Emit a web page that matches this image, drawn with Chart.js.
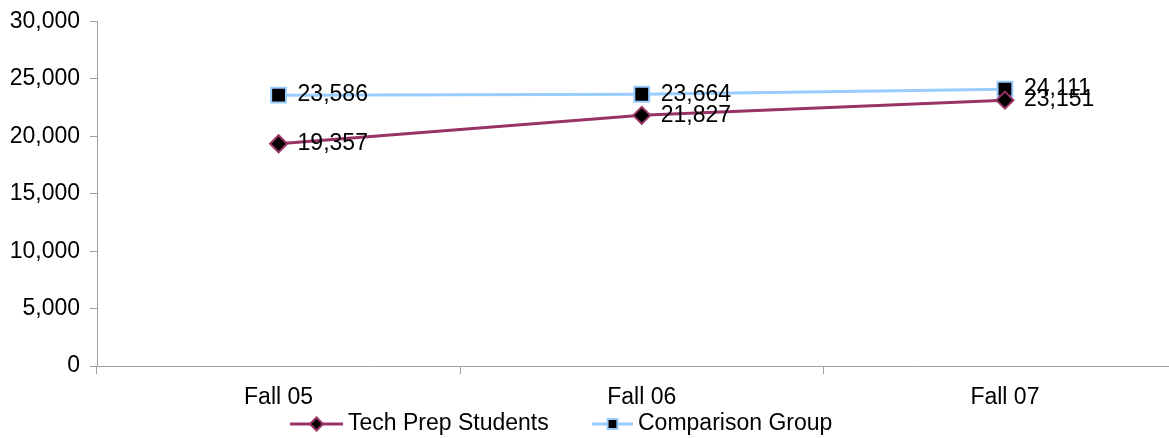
<!DOCTYPE html>
<html>
<head>
<meta charset="utf-8">
<script src="https://cdn.jsdelivr.net/npm/chart.js@4/dist/chart.umd.min.js"></script>
<style>
    body { margin: 0; overflow: hidden; background: #fff; }
    #localGrafico { width: 1199px; height: 438px; }
</style>
</head>
<body>
<div id="localGrafico"><canvas id="grafico"></canvas></div>
<script>
// dados do gráfico
const categorias = ['Fall 05', 'Fall 06', 'Fall 07'];
const techPrep = [19357, 21827, 23151];
const comparacao = [23586, 23664, 24111];
const nomesSeries = ['Tech Prep Students', 'Comparison Group'];
const cores = ['#993366', '#99CCFF'];

const fonte = { family: 'Liberation Sans, Arial, sans-serif', size: 23 };
const corEixo = '#a0a0a0';

function formatar(v) {
    return v.toLocaleString('en-US');
}

// rótulos de valor à direita de cada ponto
const rotulos = {
    id: 'rotulos',
    afterDatasetsDraw(chart) {
        const ctx = chart.ctx;
        ctx.save();
        ctx.font = fonte.size + 'px ' + fonte.family;
        ctx.fillStyle = '#000';
        ctx.textBaseline = 'middle';
        ctx.textAlign = 'left';
        chart.data.datasets.forEach((ds, i) => {
            chart.getDatasetMeta(i).data.forEach((pt, j) => {
                ctx.fillText(formatar(ds.data[j]), pt.x + 19, pt.y);
            });
        });
        ctx.restore();
    }
};

// legenda embaixo, linha + marcador + texto
const legenda = {
    id: 'legenda',
    afterDraw(chart) {
        const ctx = chart.ctx;
        const y = 424;
        const inicio = [290, 592];
        const larguras = [53, 41];
        const raios = [6.5, 7];
        ctx.save();
        ctx.font = fonte.size + 'px ' + fonte.family;
        ctx.textBaseline = 'middle';
        chart.data.datasets.forEach((ds, i) => {
            const x = inicio[i];
            const larguraLinha = larguras[i];
            ctx.strokeStyle = ds.borderColor;
            ctx.lineWidth = 3;
            ctx.beginPath();
            ctx.moveTo(x, y);
            ctx.lineTo(x + larguraLinha, y);
            ctx.stroke();
            ctx.fillStyle = ds.pointBackgroundColor;
            ctx.strokeStyle = ds.pointBorderColor;
            ctx.lineWidth = ds.pointBorderWidth;
            Chart.helpers.drawPoint(ctx, {
                pointStyle: ds.pointStyle,
                radius: raios[i],
                borderWidth: ds.pointBorderWidth
            }, x + larguraLinha / 2, y);
            ctx.fillStyle = '#000';
            ctx.fillText(ds.label, x + larguraLinha + 5, y);
        });
        ctx.restore();
    }
};

const data = {
    labels: categorias,
    datasets: [
        {
            label: nomesSeries[0],
            data: techPrep,
            borderColor: cores[0],
            borderWidth: 3,
            pointStyle: 'rectRot',
            pointRadius: 8.5,
            pointBackgroundColor: '#000',
            pointBorderColor: cores[0],
            pointBorderWidth: 2,
            tension: 0
        },
        {
            label: nomesSeries[1],
            data: comparacao,
            borderColor: cores[1],
            borderWidth: 3,
            pointStyle: 'rect',
            pointRadius: 10.5,
            pointBackgroundColor: '#000',
            pointBorderColor: cores[1],
            pointBorderWidth: 2,
            tension: 0
        }
    ]
};

const config = {
    type: 'line',
    data: data,
    options: {
        responsive: true,
        maintainAspectRatio: false,
        animation: false,
        layout: { padding: { top: 20, right: 0, bottom: 26, left: 0 } },
        plugins: {
            legend: { display: false },
            tooltip: { enabled: false }
        },
        scales: {
            x: {
                offset: true,
                grid: {
                    offset: true,
                    drawOnChartArea: false,
                    drawTicks: true,
                    tickLength: 8,
                    color: corEixo
                },
                border: { color: corEixo, width: 1 },
                ticks: { color: '#000', font: fonte, padding: 10, maxRotation: 0 },
                afterFit(scale) { scale.height = 46; }
            },
            y: {
                min: 0,
                max: 30000,
                grid: {
                    drawOnChartArea: false,
                    drawTicks: true,
                    tickLength: 7,
                    color: corEixo
                },
                border: { color: corEixo, width: 1 },
                ticks: {
                    stepSize: 5000,
                    color: '#000',
                    font: { family: fonte.family, size: fonte.size, lineHeight: 1 },
                    padding: 10,
                    callback: v => formatar(v)
                },
                afterFit(scale) { scale.width = 97; }
            }
        }
    },
    plugins: [rotulos, legenda]
};

new Chart(document.getElementById('grafico'), config);
</script>
</body>
</html>
